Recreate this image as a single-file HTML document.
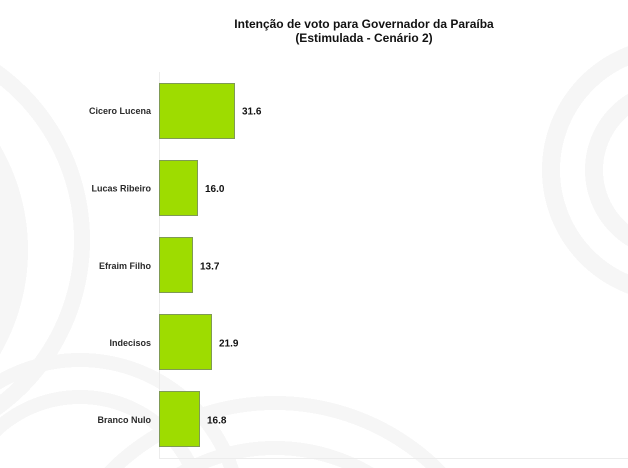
<!DOCTYPE html>
<html><head><meta charset="utf-8"><style>
html,body{margin:0;padding:0;background:#fff;width:628px;height:468px;overflow:hidden;}
#bg{position:absolute;left:0;top:0;width:628px;height:468px;
background:
 radial-gradient(circle at -125px 240px, transparent 199px, #f6f6f6 199px, #f6f6f6 215px, transparent 215px),
 radial-gradient(circle at -180px 250px, transparent 178px, #f6f6f6 178px, #f6f6f6 208px, transparent 208px),
 radial-gradient(circle at 80px 520px, transparent 116px, #f6f6f6 116px, #f6f6f6 130px, transparent 130px, transparent 153px, #f6f6f6 153px, #f6f6f6 167px, transparent 167px),
 radial-gradient(circle at 275px 635px, transparent 180px, #f6f6f6 180px, #f6f6f6 194px, transparent 194px, transparent 225px, #f6f6f6 225px, #f6f6f6 239px, transparent 239px),
 radial-gradient(circle at 674px 170px, transparent 71px, #f6f6f6 71px, #f6f6f6 89px, transparent 89px, transparent 114px, #f6f6f6 114px, #f6f6f6 132px, transparent 132px),
 #fff;}
svg{position:absolute;left:0;top:0;display:block;}
text{font-family:"Liberation Sans",Arial,sans-serif;}
</style></head><body>
<div id="bg"></div>
<svg width="628" height="468" viewBox="0 0 628 468" xmlns="http://www.w3.org/2000/svg">
<text x="364" y="28" font-size="12" font-weight="bold" text-anchor="middle" fill="#111">Intenção de voto para Governador da Paraíba</text>
<text x="364" y="42" font-size="12" font-weight="bold" text-anchor="middle" fill="#111">(Estimulada - Cenário 2)</text>
<line x1="159.5" y1="72" x2="159.5" y2="458" stroke="#ececec" stroke-width="1"/>
<line x1="159" y1="458.5" x2="628" y2="458.5" stroke="#ececec" stroke-width="1"/>
<g fill="#9edc00" stroke="#7f9a55" stroke-width="1">
  <rect x="159.5" y="83.5" width="75" height="55"/>
  <rect x="159.5" y="160.5" width="38" height="55"/>
  <rect x="159.5" y="237.5" width="33" height="55"/>
  <rect x="159.5" y="314.5" width="52" height="55"/>
  <rect x="159.5" y="391.5" width="40" height="55"/>
</g>
<g font-size="9" font-weight="bold" text-anchor="end" fill="#2a2a2a">
  <text x="151" y="114">Cicero Lucena</text>
  <text x="151" y="191.5">Lucas Ribeiro</text>
  <text x="151" y="269">Efraim Filho</text>
  <text x="151" y="346">Indecisos</text>
  <text x="151" y="423">Branco Nulo</text>
</g>
<g font-size="10" font-weight="bold" fill="#111">
  <text x="242" y="114.5">31.6</text>
  <text x="205" y="192">16.0</text>
  <text x="200" y="269.5">13.7</text>
  <text x="219" y="346.5">21.9</text>
  <text x="207" y="423.5">16.8</text>
</g>
</svg>
</body></html>
